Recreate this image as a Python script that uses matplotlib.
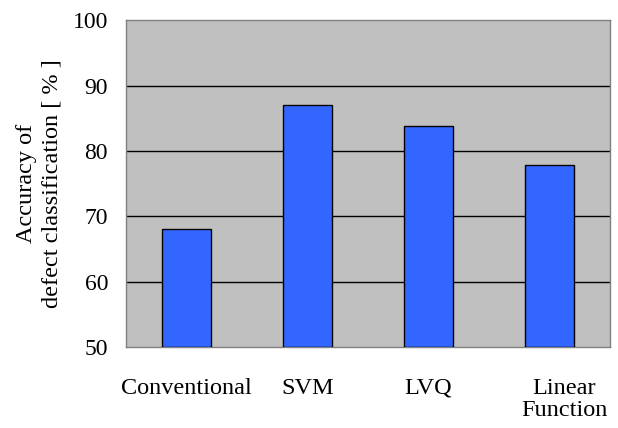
import matplotlib
matplotlib.use("Agg")
import matplotlib.pyplot as plt
import matplotlib.transforms as mtransforms
import numpy as np

methods = ["Conventional", "SVM", "LVQ", "Linear\nFunction"]
accuracy = [68.0, 87.0, 83.8, 77.8]
y_ticks = [50, 60, 70, 80, 90, 100]

plt.rcParams["font.family"] = ["Liberation Serif", "DejaVu Serif"]

fig = plt.figure(figsize=(6.18, 4.28), dpi=100)
ax = fig.add_axes([0.204, 0.189, 0.783, 0.764])
ax.set_facecolor("#C0C0C0")

x = np.arange(len(methods))
ax.bar(x, np.array(accuracy) - 50, bottom=50, width=0.41,
       color="#3366FF", edgecolor="black", linewidth=1.0, zorder=3)

ax.set_xlim(-0.5, len(methods) - 0.5)
ax.set_ylim(50, 100)
ax.set_yticks(y_ticks)
ax.set_yticklabels([str(v) for v in y_ticks], fontsize=17)
ax.set_xticks(x)
ax.set_xticklabels(methods, fontsize=17.5, linespacing=1.1)
ax.tick_params(axis="both", length=0)
ax.tick_params(axis="y", pad=13)
ax.tick_params(axis="x", pad=22)

# last label sits a bit right of its bar in the original
lbl = ax.get_xticklabels()[-1]
lbl.set_transform(lbl.get_transform() + mtransforms.ScaledTranslation(0.15, 0, fig.dpi_scale_trans))

for v in y_ticks[1:-1]:
    ax.axhline(v, color="black", linewidth=1.0, zorder=1)

for s in ax.spines.values():
    s.set_color("#808080")
    s.set_linewidth(1.0)

ax.set_ylabel("Accuracy of\ndefect classification [ % ]", fontsize=17.5, linespacing=1.3,
              ha="center", va="center")
ax.yaxis.set_label_coords(-0.18, 0.5)

fig.savefig("out.png", dpi=100)
